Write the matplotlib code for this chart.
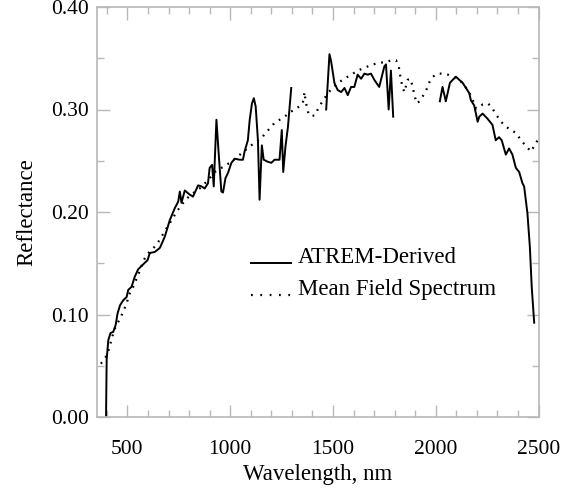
import matplotlib
matplotlib.use("Agg")
import matplotlib.pyplot as plt
from matplotlib.ticker import MultipleLocator

# ATREM-derived reflectance, three segments (gaps at water bands)
atrem_wl_1 = [396, 399, 407, 418, 431, 443, 452, 464, 480, 496, 504, 520, 536, 552, 577,
              598, 609, 633, 658, 682, 706, 731, 747, 755, 763, 779, 803, 819, 844, 860,
              876, 892, 900, 912, 920, 933, 944, 957, 965, 977, 989, 1006, 1022, 1046,
              1062, 1070, 1086, 1095, 1106, 1115, 1124, 1135, 1143, 1154, 1163, 1183,
              1200, 1216, 1240, 1251, 1258, 1269, 1281, 1297]
atrem_r_1 = [0.000, 0.056, 0.075, 0.082, 0.083, 0.090, 0.101, 0.109, 0.114, 0.117, 0.124,
             0.127, 0.137, 0.144, 0.149, 0.153, 0.160, 0.161, 0.165, 0.176, 0.192, 0.204,
             0.210, 0.220, 0.209, 0.221, 0.217, 0.215, 0.226, 0.225, 0.223, 0.228, 0.243,
             0.246, 0.225, 0.290, 0.257, 0.220, 0.219, 0.233, 0.238, 0.248, 0.252, 0.251,
             0.251, 0.259, 0.270, 0.290, 0.306, 0.311, 0.303, 0.270, 0.212, 0.265, 0.251,
             0.249, 0.248, 0.251, 0.251, 0.280, 0.239, 0.264, 0.283, 0.321]
atrem_wl_2 = [1467, 1483, 1491, 1507, 1523, 1540, 1556, 1572, 1588, 1604, 1620, 1637, 1653,
              1669, 1685, 1701, 1725, 1750, 1758, 1771, 1782, 1793]
atrem_r_2 = [0.300, 0.354, 0.347, 0.326, 0.319, 0.317, 0.321, 0.314, 0.322, 0.322, 0.334,
             0.330, 0.335, 0.334, 0.335, 0.329, 0.322, 0.342, 0.344, 0.300, 0.338, 0.293]
atrem_wl_3 = [2020, 2033, 2049, 2069, 2083, 2098, 2114, 2131, 2147, 2163, 2171, 2187, 2204,
              2212, 2228, 2252, 2276, 2292, 2308, 2321, 2341, 2357, 2373, 2390, 2406, 2422,
              2430, 2446, 2458, 2467, 2479]
atrem_r_3 = [0.308, 0.322, 0.308, 0.326, 0.329, 0.332, 0.329, 0.326, 0.321, 0.316, 0.309,
             0.304, 0.288, 0.293, 0.296, 0.291, 0.285, 0.270, 0.273, 0.270, 0.256, 0.262,
             0.256, 0.243, 0.239, 0.228, 0.225, 0.199, 0.166, 0.127, 0.092]

# Mean field spectrum
field_wl = [371, 387, 404, 415, 426, 436, 448, 464, 480, 496, 512, 528, 545, 561, 577, 593,
            617, 642, 666, 690, 715, 739, 763, 803, 852, 892, 925, 957, 981, 1006, 1030,
            1095, 1151, 1216, 1265, 1289, 1313, 1337, 1353, 1362, 1366, 1378, 1386, 1410,
            1426, 1443, 1459, 1475, 1499, 1524, 1548, 1572, 1597, 1621, 1645, 1669, 1694,
            1718, 1742, 1767, 1791, 1807, 1820, 1828, 1836, 1847, 1864, 1877, 1888, 1896,
            1908, 1921, 1937, 1954, 1970, 1986, 2010, 2035, 2059, 2083, 2108, 2132, 2148,
            2164, 2180, 2197, 2213, 2229, 2253, 2270, 2294, 2318, 2343, 2367, 2391, 2415,
            2440, 2464, 2480, 2496]
field_r = [0.052, 0.056, 0.062, 0.070, 0.078, 0.085, 0.090, 0.096, 0.103, 0.111, 0.121,
           0.127, 0.135, 0.143, 0.152, 0.158, 0.163, 0.168, 0.176, 0.184, 0.192, 0.200,
           0.207, 0.216, 0.223, 0.231, 0.239, 0.243, 0.246, 0.249, 0.253, 0.264, 0.272,
           0.287, 0.293, 0.297, 0.300, 0.303, 0.306, 0.317, 0.309, 0.298, 0.294, 0.294,
           0.300, 0.306, 0.311, 0.316, 0.321, 0.326, 0.329, 0.332, 0.335, 0.338, 0.340,
           0.342, 0.344, 0.345, 0.346, 0.347, 0.348, 0.348, 0.342, 0.332, 0.324, 0.317,
           0.329, 0.330, 0.322, 0.314, 0.306, 0.308, 0.313, 0.319, 0.327, 0.332, 0.335,
           0.335, 0.334, 0.332, 0.329, 0.326, 0.321, 0.316, 0.309, 0.301, 0.303, 0.305,
           0.306, 0.303, 0.295, 0.288, 0.283, 0.280, 0.277, 0.270, 0.264, 0.259, 0.265,
           0.270]

x_ticks = [500, 1000, 1500, 2000, 2500]
y_ticks = [0.00, 0.10, 0.20, 0.30, 0.40]
y_tick_labels = ["0.00", "0.10", "0.20", "0.30", "0.40"]
legend_labels = ["ATREM-Derived", "Mean Field Spectrum"]

plt.rcParams['font.family'] = ['Liberation Serif', 'DejaVu Serif']

fig = plt.figure(figsize=(5.61, 4.88), dpi=100)
ax = fig.add_axes([97 / 561, 1 - 417 / 488, 441.5 / 561, 410 / 488])

lw = 1.4
dot_style = (0, (0.8, 2.6))
ax.plot(atrem_wl_1, atrem_r_1, color='black', lw=lw)
ax.plot(atrem_wl_2, atrem_r_2, color='black', lw=lw)
ax.plot(atrem_wl_3, atrem_r_3, color='black', lw=lw)
ax.plot(field_wl, field_r, color='black', lw=1.6, linestyle=dot_style)

ax.set_xlim(352, 2500)
ax.set_ylim(0, 0.40)
ax.set_xticks(x_ticks)
ax.set_yticks(y_ticks)
ax.set_yticklabels(y_tick_labels)
ax.xaxis.set_minor_locator(MultipleLocator(100))
ax.yaxis.set_minor_locator(MultipleLocator(0.05))

grey = '#b8b8b8'
for s in ax.spines.values():
    s.set_color(grey)
    s.set_linewidth(1.2)
ax.tick_params(which='both', direction='in', top=True, right=True, color=grey,
               width=1.0, labelsize=15.5)
ax.tick_params(axis='x', pad=16.5)
ax.tick_params(axis='y', pad=6)
ax.tick_params(which='major', length=9)
ax.tick_params(which='minor', length=5)

ax.set_xlabel('Wavelength, nm', fontsize=16.5, labelpad=4)
ax.set_ylabel('Reflectance', fontsize=16.5, labelpad=10)

# Legend: handles sit on the text baseline, as in the original
tr = ax.transAxes
leg_x0, leg_x1, leg_tx = 0.349, 0.440, 0.455
leg_y = [0.3756, 0.2976]
ax.plot([leg_x0, leg_x1], [leg_y[0], leg_y[0]], color='black', lw=lw, transform=tr)
ax.plot([leg_x0, leg_x1], [leg_y[1], leg_y[1]], color='black', lw=1.6,
        linestyle=(0, (0.8, 3.4)), transform=tr)
for yy, lab in zip(leg_y, legend_labels):
    ax.text(leg_tx, yy, lab, transform=tr, fontsize=16.5, va='baseline', ha='left')

fig.savefig('out.png', dpi=100)
